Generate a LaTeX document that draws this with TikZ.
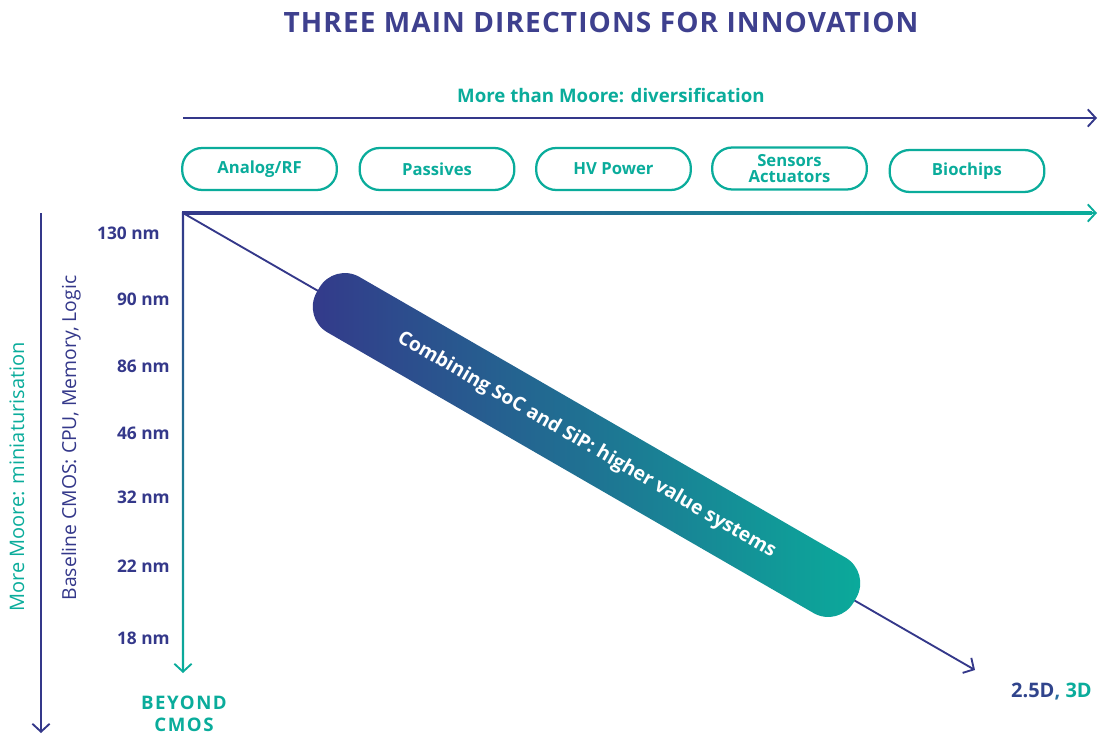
\documentclass[tikz,border=0pt]{standalone}
\usepackage{fontspec}
\IfFontExistsTF{Open Sans SemiBold}{\setmainfont{Open Sans}[BoldFont={Open Sans SemiBold}]}{\setmainfont{Open Sans}}
\usetikzlibrary{arrows.meta}
\definecolor{mynavy}{RGB}{52,56,138}
\definecolor{mytitle}{RGB}{62,64,142}
\definecolor{myteal}{RGB}{10,172,155}
\definecolor{mymid}{RGB}{40,110,160}
\begin{document}
\begin{tikzpicture}[x=0.75pt,y=-0.75pt,
  tipline/.style={line width=1.4pt,-{Straight Barb[length=6pt,width=13pt]}},
  pill/.style={draw=myteal,line width=1.7pt,rounded corners=15pt,minimum width=116pt,minimum height=31.5pt,
    text=myteal,font=\bfseries\fontsize{12.5}{12.5}\selectfont,align=center,inner sep=0pt},
  nm/.style={text=mynavy,font=\bfseries\fontsize{13}{15}\selectfont,anchor=east,inner sep=0pt},
]
\useasboundingbox (0,0) rectangle (1099,735);
% title
\node[text=mytitle,font=\bfseries\fontsize{21}{24}\selectfont\addfontfeatures{LetterSpace=4}] (title) at (601,22) {THREE MAIN DIRECTIONS FOR INNOVATION};
\node[text=myteal,font=\bfseries\fontsize{14}{16}\selectfont] (mtm) at (611,95) {More than Moore: diversification};
% top arrow
\coordinate (t1) at (183,118); \coordinate (t2) at (1097,118);
\draw[mynavy,tipline] (t1) -- (t2);
% pills
\node[pill] (p1) at (259.5,169) {Analog/RF};
\node[pill] (p2) at (437,169) {Passives};
\node[pill] (p3) at (613.5,169) {HV Power};
\node[pill] (p4) at (789.5,168.5) {Sensors\\Actuators};
\node[pill] (p5) at (967,171) {Biochips};
% horizontal gradient axis
\coordinate (o) at (183,213);
\coordinate (hx) at (1097,213);
\coordinate (hx0) at (1080,213);
\shade[left color=mynavy,right color=myteal] (182,211.9) rectangle (1092,214.1);
\draw[myteal,tipline] (hx0) -- (hx);
% vertical gradient axis
\coordinate (vy) at (183,673);
\coordinate (vy0) at (183,655);
\shade[top color=mynavy,bottom color=myteal] (181.9,212) rectangle (184.1,668);
\draw[myteal,tipline] (vy0) -- (vy);
% diagonal
\coordinate (d) at (975,670);
\draw[mynavy,tipline] (o) -- (d);
% left long arrow
\coordinate (l1) at (41,213); \coordinate (l2) at (41,733);
\draw[mynavy,tipline] (l1) -- (l2);
% capsule
\node[rotate=-30,minimum width=465pt,minimum height=48pt,rounded corners=22pt,
  left color=mynavy,right color=myteal,text=white,inner sep=0pt,
  font=\bfseries\fontsize{14.5}{16}\selectfont] (cap) at (586.5,445) {Combining SoC and SiP: higher value systems};
% nm labels
\node[nm] (n130) at (160,233) {130 nm};
\node[nm] (n90) at (170,299) {90 nm};
\node[nm] (n86) at (170,366) {86 nm};
\node[nm] (n46) at (170,433) {46 nm};
\node[nm] (n32) at (170,497) {32 nm};
\node[nm] (n22) at (170,566) {22 nm};
\node[nm] (n18) at (170,638) {18 nm};
% rotated labels
\node[rotate=90,text=myteal,font=\fontsize{15}{18}\selectfont] (mm) at (17,477) {More Moore: miniaturisation};
\node[rotate=90,text=mynavy,font=\fontsize{14.5}{18}\selectfont] (bc) at (71,438) {Baseline CMOS: CPU, Memory, Logic};
% bottom labels
\node[text=myteal,font=\bfseries\fontsize{14}{16.5}\selectfont\addfontfeatures{LetterSpace=8},align=center] (bey) at (184,714) {BEYOND\\CMOS};
\node[font=\bfseries\fontsize{15}{17}\selectfont,anchor=east,inner sep=0pt] (d3) at (1092,692) {\textcolor{mynavy!90!myteal}{2.5D}\textcolor{mymid}{,} \textcolor{myteal}{3D}};
\end{tikzpicture}
\end{document}
